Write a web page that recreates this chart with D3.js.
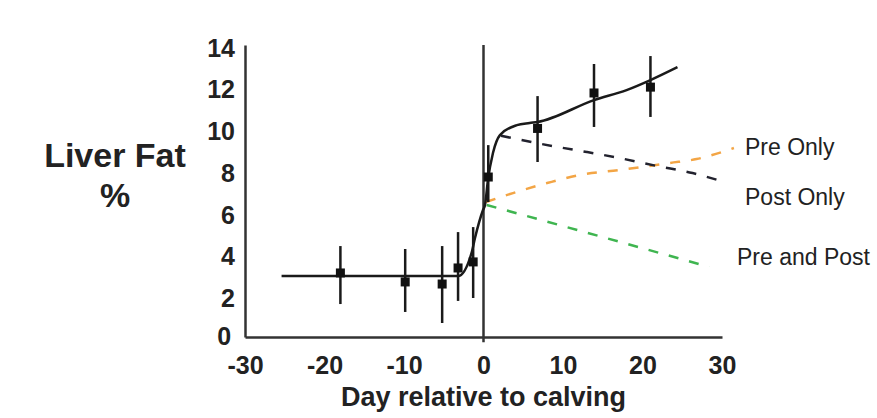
<!DOCTYPE html>
<html>
<head>
<meta charset="utf-8">
<script src="https://cdn.jsdelivr.net/npm/d3@7"></script>
<style>
  body { margin: 0; background: #fff; }
</style>
</head>
<body>
<div id="chart"></div>
<script>
// observed means with error bars
const days = [-18.0, -9.85, -5.2, -3.2, -1.3, 0.6, 6.8, 13.9, 21.0];
const means = [3.07, 2.64, 2.54, 3.31, 3.6, 7.67, 10.0, 11.7, 11.98];
const errHigh = [4.36, 4.22, 4.36, 5.03, 5.27, 9.2, 11.55, 13.09, 13.47];
const errLow = [1.58, 1.20, 0.67, 1.73, 1.87, 6.47, 8.39, 10.07, 10.55];

// fitted curve
const fitDays = [-25.4, -3.2, -1.5, -1.07, -0.06, 0.19, 0.56, 1.19, 2.07, 4.2, 5.8, 6.8, 13.9, 18.0, 21.0, 24.4];
const fitVals = [2.92, 2.92, 4.03, 4.75, 6.09, 6.33, 7.53, 8.82, 9.68, 10.16, 10.26, 10.31, 11.36, 11.84, 12.32, 12.94];

// scenario projections
const postDays = [2.2, 8.6, 13.0, 17.1, 21.8, 26.3, 30.3];
const postVals = [9.65, 9.16, 8.87, 8.58, 8.2, 7.86, 7.43];
const preDays = [0.3, 3.7, 8.0, 12.1, 17.0, 20.0, 23.4, 26.8, 31.5];
const preVals = [6.47, 6.9, 7.38, 7.77, 8.0, 8.15, 8.34, 8.53, 9.06];
const bothDays = [0.4, 15.0, 28.4];
const bothVals = [6.33, 4.79, 3.36];

const xTicks = [-30, -20, -10, 0, 10, 20, 30];
const yTicks = [0, 2, 4, 6, 8, 10, 12, 14];

const width = 877, height = 418;

const x = d3.scaleLinear().domain([-30, 30]).range([245, 722]);
const y = d3.scaleLinear().domain([0, 14]).range([337, 45]);

const svg = d3.select("#chart").append("svg")
    .attr("width", width)
    .attr("height", height)
    .attr("font-family", "'Liberation Sans', Arial, sans-serif");

// axes (no tick marks), plain hyphen for negatives
const xAxis = svg.append("g")
    .attr("transform", `translate(0,${y(0)})`)
    .call(d3.axisBottom(x).tickValues(xTicks).tickFormat(d => String(d)).tickSize(0).tickPadding(19));
xAxis.select(".domain").attr("stroke", "#333").attr("stroke-width", 2.5);
xAxis.selectAll("text").attr("font-size", 25).attr("font-weight", "bold").attr("fill", "#222");

const yAxis = svg.append("g")
    .attr("transform", `translate(${x(-30)},0)`)
    .call(d3.axisLeft(y).tickValues(yTicks).tickSize(0).tickPadding(10));
yAxis.select(".domain").attr("stroke", "#333").attr("stroke-width", 2.5);
yAxis.selectAll("text")
    .attr("font-size", 25).attr("font-weight", "bold").attr("fill", "#222")
    .attr("dx", d => d === 0 ? "-0.15em" : 0)
    .attr("dy", d => d === 0 ? "0.3em" : "0.45em");

// calving line
svg.append("line")
    .attr("x1", x(0)).attr("x2", x(0))
    .attr("y1", y(14)).attr("y2", y(-0.25))
    .attr("stroke", "#333").attr("stroke-width", 2.5);

const line = d3.line().x(d => x(d[0])).y(d => y(d[1]));

function dashed(ds, vs, color) {
    svg.append("path")
        .datum(d3.zip(ds, vs))
        .attr("fill", "none")
        .attr("stroke", color)
        .attr("stroke-width", 2.5)
        .attr("stroke-dasharray", "10,11")
        .attr("d", line.curve(d3.curveMonotoneX));
}
dashed(bothDays, bothVals, "#3fb550");
dashed(preDays, preVals, "#f3a545");
dashed(postDays, postVals, "#22222e");

// fitted curve
svg.append("path")
    .datum(d3.zip(fitDays, fitVals))
    .attr("fill", "none")
    .attr("stroke", "#1a1a1a")
    .attr("stroke-width", 2.5)
    .attr("d", line.curve(d3.curveMonotoneX));

// error bars + squares
const pts = svg.append("g").selectAll("g")
    .data(days.map((d, i) => ({ d, m: means[i], lo: errLow[i], hi: errHigh[i] })))
    .join("g");
pts.append("line")
    .attr("x1", p => x(p.d)).attr("x2", p => x(p.d))
    .attr("y1", p => y(p.hi)).attr("y2", p => y(p.lo))
    .attr("stroke", "#1a1a1a").attr("stroke-width", 2.5);
pts.append("rect")
    .attr("x", p => x(p.d) - 4.5).attr("y", p => y(p.m) - 4.5)
    .attr("width", 9).attr("height", 9)
    .attr("fill", "#111");

// labels
const labelFont = 23;
svg.append("text").attr("x", 745).attr("y", y(9.1)).attr("dy", "0.35em")
    .attr("font-size", labelFont).attr("fill", "#222").text("Pre Only");
svg.append("text").attr("x", 745).attr("y", y(6.7)).attr("dy", "0.35em")
    .attr("font-size", labelFont).attr("fill", "#222").text("Post Only");
svg.append("text").attr("x", 737).attr("y", y(3.85)).attr("dy", "0.35em")
    .attr("font-size", labelFont).attr("fill", "#222").text("Pre and Post");

svg.append("text").attr("x", 115).attr("y", 167)
    .attr("text-anchor", "middle").attr("font-size", 34).attr("font-weight", "bold")
    .attr("fill", "#222").text("Liver Fat");
svg.append("text").attr("x", 115).attr("y", 207)
    .attr("text-anchor", "middle").attr("font-size", 34).attr("font-weight", "bold")
    .attr("fill", "#222").text("%");

svg.append("text").attr("x", x(0)).attr("y", 406)
    .attr("text-anchor", "middle").attr("font-size", 27).attr("font-weight", "bold")
    .attr("fill", "#222").text("Day relative to calving");
</script>
</body>
</html>
